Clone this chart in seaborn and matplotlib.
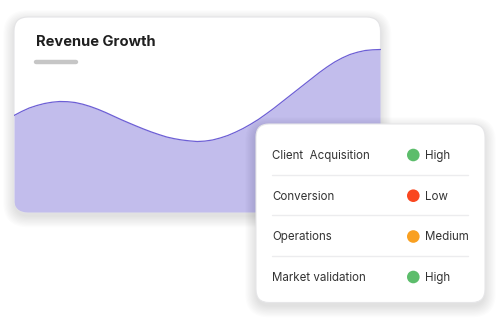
import matplotlib
matplotlib.use("Agg")
import matplotlib.pyplot as plt
from matplotlib.patches import FancyBboxPatch, Circle
import seaborn as sns
import pandas as pd

sns.set_theme(style="white")
plt.rcParams['font.family'] = ['Inter', 'DejaVu Sans']

# ---- data ----
title = "Revenue Growth"
period = list(range(49))
revenue = [97, 101, 104.5, 107, 109, 110.3, 111, 110.8, 110, 108.3, 106, 103.2,
           100, 96.5, 93, 89.7, 86.5, 83.4, 80.5, 77.9, 75.5, 73.8, 72.5, 71.6,
           71, 71.4, 72.5, 74.5, 77, 80.3, 84, 88.3, 93, 98.4, 104, 110, 116,
           122, 128, 134, 140, 145.5, 150.5, 154.6, 158, 160.3, 162, 162.7, 163]
metrics = ["Client  Acquisition", "Conversion", "Operations", "Market validation"]
levels = ["High", "Low", "Medium", "High"]
level_colors = {"High": "#5cbd6b", "Low": "#fa4720", "Medium": "#f9a021"}

df = pd.DataFrame({"period": period, "revenue": revenue})

W, H = 500, 319
fig = plt.figure(figsize=(W / 100, H / 100), dpi=100)
fig.patch.set_facecolor("white")

# background layer (pixel coords)
bg = fig.add_axes([0, 0, 1, 1], zorder=0)
bg.set_xlim(0, W); bg.set_ylim(H, 0); bg.axis("off")

def shadow(ax, x0, y0, w, h, r, layers=10, dy=4, z=0):
    for i in range(layers):
        g = i * 1.2
        ax.add_patch(FancyBboxPatch((x0 - g, y0 - g + dy), w + 2 * g, h + 2 * g,
                                    boxstyle=f"round,pad=0,rounding_size={r + g}",
                                    fc="black", ec="none", alpha=0.012, zorder=z))

# card 1
c1 = (14, 17, 366.5, 195.5)
shadow(bg, *c1, 14, z=1)
card1 = FancyBboxPatch(c1[:2], c1[2], c1[3], boxstyle="round,pad=0,rounding_size=14",
                       fc="white", ec="#e4e4e6", lw=0.8, zorder=2)
bg.add_patch(card1)
bg.text(35.5, 42, title, fontsize=10.6, fontweight="bold", color="#1f1f1f",
        va="center", ha="left", zorder=3)
bg.plot([36, 75.5], [61.6, 61.6], color="#c6c6c6", lw=3.2, solid_capstyle="round", zorder=3)

# wave chart axes over card 1
n = len(period) - 1
ax = fig.add_axes([c1[0] / W, (H - 212.5) / H, c1[2] / W, 195.5 / H], zorder=1)
ax.patch.set_alpha(0)
clip = FancyBboxPatch(c1[:2], c1[2], c1[3], boxstyle="round,pad=0,rounding_size=14",
                      transform=bg.transData)
fill = ax.fill_between(df["period"], df["revenue"], 0, color="#c2bdec", lw=0)
fill.set_clip_path(clip)
sns.lineplot(data=df, x="period", y="revenue", ax=ax, color="#6d5fd5", lw=0.9)
ax.set_xlim(0, n); ax.set_ylim(0, 195.5); ax.axis("off")

# card 2 on top
top = fig.add_axes([0, 0, 1, 1], zorder=2)
top.patch.set_alpha(0)
top.set_xlim(0, W); top.set_ylim(H, 0); top.axis("off")
c2 = (256, 124, 229, 178.5)
shadow(top, *c2, 13, z=1)
top.add_patch(FancyBboxPatch(c2[:2], c2[2], c2[3], boxstyle="round,pad=0,rounding_size=13",
                             fc="white", ec="#e6e6e8", lw=0.8, zorder=2))
row_y = [155.8, 196.5, 237.3, 277.8]
for i, (m, lv) in enumerate(zip(metrics, levels)):
    y = row_y[i]
    top.text(272, y, m, fontsize=8.3, color="#333333", va="center", ha="left", zorder=3)
    top.add_patch(Circle((413.3, y - 0.8), 6.3, fc=level_colors[lv], ec="none", zorder=3))
    top.text(425.5, y, lv, fontsize=8.3, color="#333333", va="center", ha="left", zorder=3)
    if i < len(metrics) - 1:
        sy = [174.5, 215.3, 256.3][i]
        top.plot([272, 468], [sy, sy], color="#ececee", lw=1.0, zorder=3)

fig.savefig("out.png", dpi=100, facecolor="white")
